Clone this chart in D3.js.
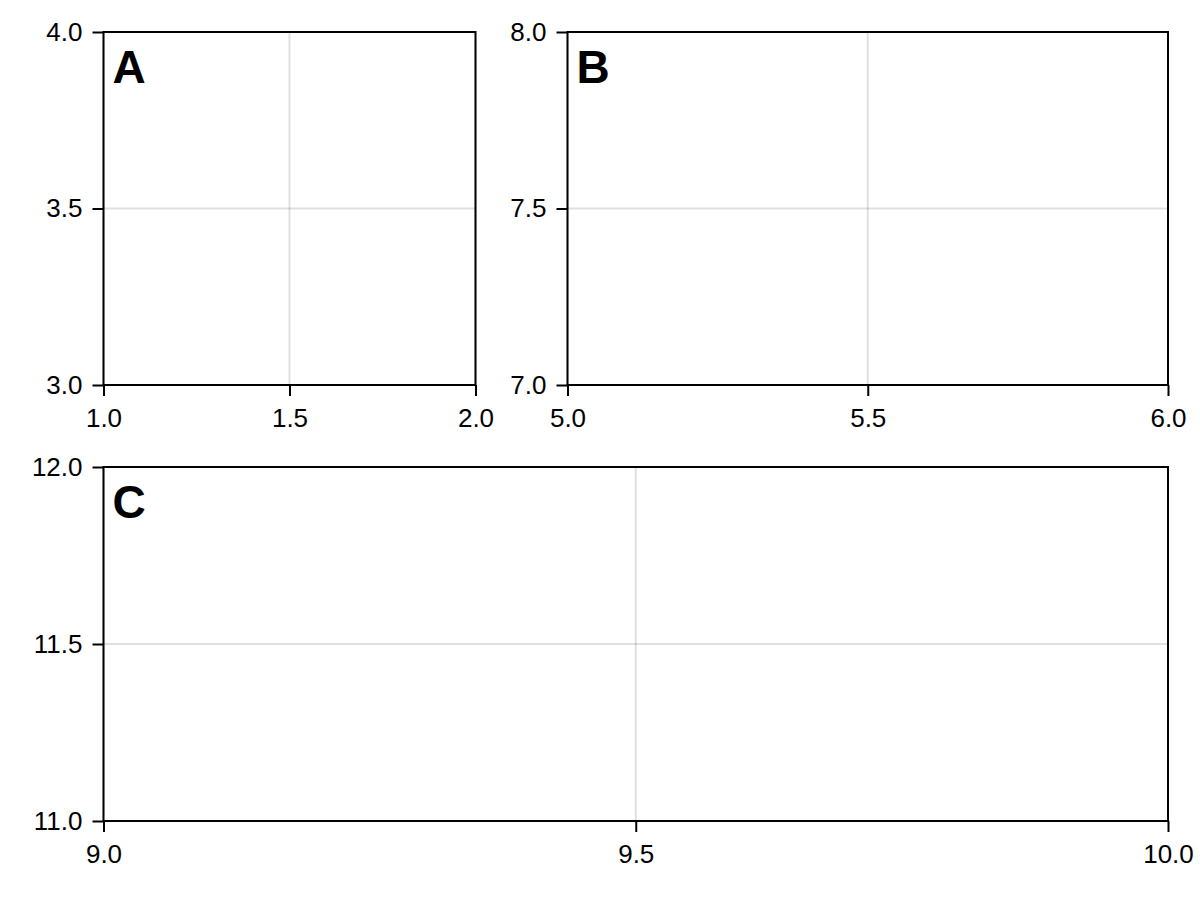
<!DOCTYPE html>
<html>
<head>
<meta charset="utf-8">
<script src="https://cdn.jsdelivr.net/npm/d3@7"></script>
<style>
  html, body { margin: 0; padding: 0; background: #fff; }
  svg { display: block; font-family: "Liberation Sans", Arial, sans-serif; }
</style>
</head>
<body>
<div id="chart"></div>
<script>
// panel data
const panelNames = ["A", "B", "C"];
const xDomains = [[1, 2], [5, 6], [9, 10]];
const yDomains = [[3, 4], [7, 8], [11, 12]];
const xTickValues = [[1.0, 1.5, 2.0], [5.0, 5.5, 6.0], [9.0, 9.5, 10.0]];
const yTickValues = [[3.0, 3.5, 4.0], [7.0, 7.5, 8.0], [11.0, 11.5, 12.0]];

// where each panel sits (pixels)
const boxes = [
    {left: 103.5, right: 475.5, top: 32, bottom: 385},
    {left: 567.5, right: 1168, top: 32, bottom: 385},
    {left: 103.5, right: 1168, top: 467, bottom: 821}
];

const width = 1200;
const height = 900;
const tickLen = 11;
const fmt = d3.format(".1f");

const svg = d3.select("#chart")
    .append("svg")
    .attr("width", width)
    .attr("height", height)
    .attr("viewBox", [0, 0, width, height]);

panelNames.forEach((name, i) => {
    const b = boxes[i];
    const x = d3.scaleLinear().domain(xDomains[i]).range([b.left, b.right]);
    const y = d3.scaleLinear().domain(yDomains[i]).range([b.bottom, b.top]);
    const g = svg.append("g");

    // grid
    g.append("g")
        .selectAll("line")
        .data(xTickValues[i])
        .join("line")
        .attr("x1", d => x(d)).attr("x2", d => x(d))
        .attr("y1", b.top).attr("y2", b.bottom)
        .attr("stroke", "#000")
        .attr("stroke-opacity", 0.12)
        .attr("stroke-width", 2);
    g.append("g")
        .selectAll("line")
        .data(yTickValues[i])
        .join("line")
        .attr("y1", d => y(d)).attr("y2", d => y(d))
        .attr("x1", b.left).attr("x2", b.right)
        .attr("stroke", "#000")
        .attr("stroke-opacity", 0.12)
        .attr("stroke-width", 2);

    // frame
    g.append("rect")
        .attr("x", b.left).attr("y", b.top)
        .attr("width", b.right - b.left)
        .attr("height", b.bottom - b.top)
        .attr("fill", "none")
        .attr("stroke", "#000")
        .attr("stroke-width", 2);

    function xAxis(ax) {
        ax.attr("transform", `translate(0, ${b.bottom})`)
          .call(d3.axisBottom(x).tickValues(xTickValues[i]).tickFormat(fmt)
                .tickSize(tickLen).tickPadding(13));
    }
    function yAxis(ax) {
        ax.attr("transform", `translate(${b.left}, 0)`)
          .call(d3.axisLeft(y).tickValues(yTickValues[i]).tickFormat(fmt)
                .tickSize(tickLen).tickPadding(10));
    }

    [xAxis, yAxis].forEach(fn => {
        const ax = g.append("g").call(fn);
        ax.select(".domain").remove();
        ax.selectAll(".tick line").attr("stroke", "#000").attr("stroke-width", 2);
        ax.selectAll(".tick text")
            .attr("fill", "#000")
            .attr("font-size", 26)
            .attr("font-family", "'Liberation Sans', Arial, sans-serif");
    });

    // panel letter
    g.append("text")
        .attr("x", b.left + 9)
        .attr("y", b.top + 51)
        .attr("font-size", 46)
        .attr("font-weight", "bold")
        .attr("fill", "#000")
        .text(name);
});
</script>
</body>
</html>
